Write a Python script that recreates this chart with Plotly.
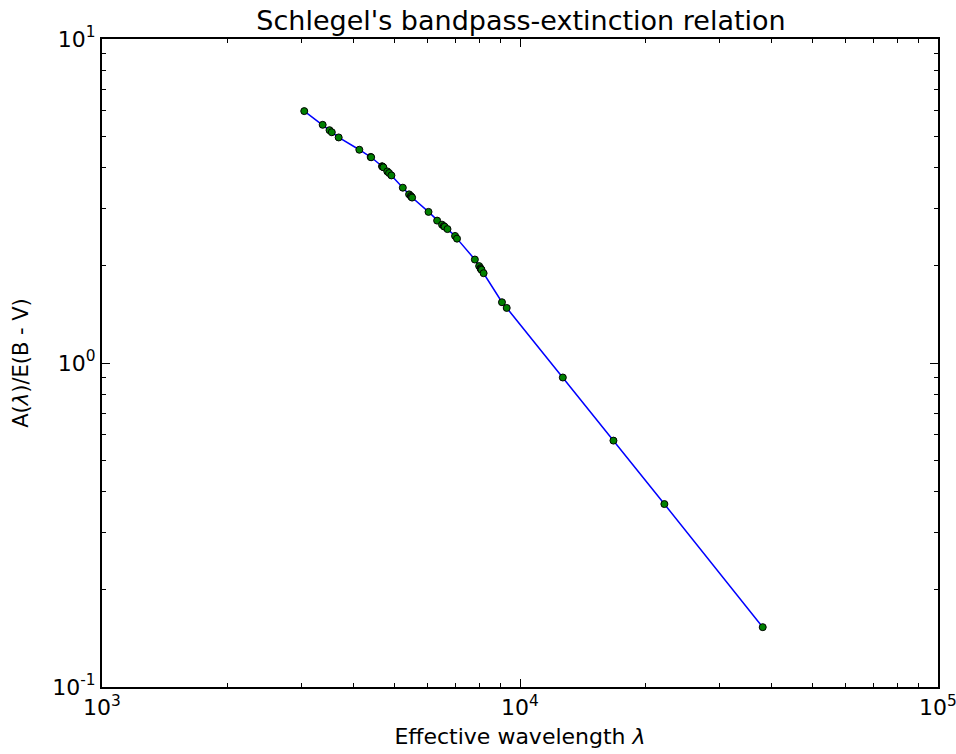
import plotly.graph_objects as go

# Schlegel et al. (1998) Table 6: effective wavelength (Angstrom) and A/E(B-V)
wavelength = [3047, 3372, 3502, 3546, 3683, 4127, 4393, 4404, 4676, 4690, 4711,
              4814, 4861, 4925, 5244, 5428, 5479, 5498, 5519, 6042, 6335, 6509,
              6571, 6602, 6707, 6993, 7068, 7799, 7985, 8046, 8066, 8090, 8183,
              9055, 9294, 12660, 16732, 22152, 38079]
extinction = [5.990, 5.434, 5.231, 5.155, 4.968, 4.552, 4.325, 4.315, 4.049, 4.035,
              4.018, 3.902, 3.858, 3.793, 3.476, 3.315, 3.277, 3.258, 3.240, 2.927,
              2.751, 2.673, 2.645, 2.634, 2.590, 2.467, 2.420, 2.086, 1.991, 1.962,
              1.948, 1.940, 1.893, 1.540, 1.479, 0.902, 0.576, 0.367, 0.153]

x_major = [1e3, 1e4, 1e5]
x_major_text = ["10<sup>3</sup>", "10<sup>4</sup>", "10<sup>5</sup>"]
y_major = [0.1, 1, 10]
y_major_text = ["10<sup>-1</sup>", "10<sup>0</sup>", "10<sup>1</sup>"]

x_minor = [m * 10 ** e for e in (3, 4) for m in range(2, 10)]
y_minor = [m * 10 ** e for e in (-1, 0) for m in range(2, 10)]

FONT = "DejaVu Sans"

fig = go.Figure()
fig.add_trace(go.Scatter(
    x=wavelength, y=extinction, mode="lines+markers",
    line=dict(color="#0000ff", width=1.5),
    marker=dict(color="#008000", size=7, line=dict(color="black", width=1)),
    showlegend=False,
))

axis_common = dict(
    showgrid=False, zeroline=False, showline=True, linecolor="black", linewidth=2,
    mirror="ticks", ticks="inside", ticklen=8, tickwidth=1, tickcolor="black",
    tickfont=dict(family=FONT, size=22, color="black"),
    ticklabeloverflow="allow",
    automargin=False,
)

fig.update_xaxes(
    type="log", range=[3, 5], tickmode="array", tickvals=x_major, ticktext=x_major_text,
    minor=dict(tickmode="array", tickvals=x_minor, ticks="inside", ticklen=4,
               tickcolor="black", showgrid=False),
    title=dict(text="Effective wavelength <i>λ</i>",
               font=dict(family=FONT, size=22, color="black"), standoff=9),
    **axis_common,
)
fig.update_yaxes(
    type="log", range=[-1, 1], tickmode="array", tickvals=y_major, ticktext=y_major_text,
    minor=dict(tickmode="array", tickvals=y_minor, ticks="inside", ticklen=4,
               tickcolor="black", showgrid=False),
    title=dict(text="A(<i>λ</i>)/E(B - V)",
               font=dict(family=FONT, size=21, color="black"), standoff=18),
    **axis_common,
)

fig.update_layout(
    width=956, height=754,
    margin=dict(l=102, r=18, t=39, b=67),
    paper_bgcolor="white", plot_bgcolor="white",
    title=dict(text="Schlegel's bandpass-extinction relation",
               font=dict(family=FONT, size=27, color="black"),
               x=0.545, xanchor="center", y=0.973, yanchor="middle"),
)

fig.write_html("out.html")
